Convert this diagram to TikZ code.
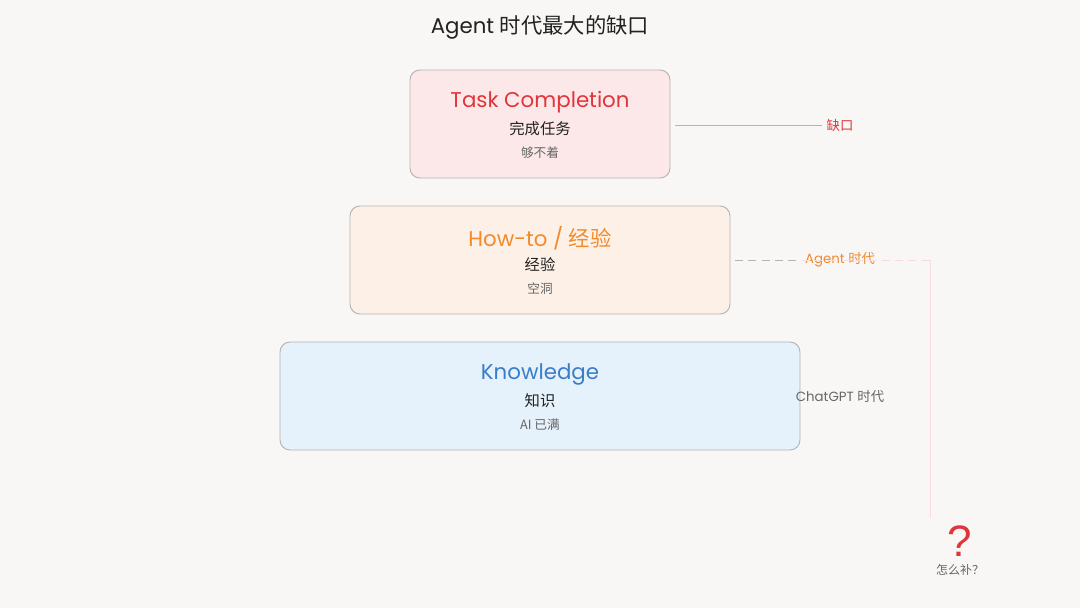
\documentclass[tikz,border=0pt]{standalone}
\usepackage{fontspec}
\setmainfont{Poppins}
\newfontfamily\cjk{Noto Sans CJK SC}
\newfontfamily\qfont{Liberation Sans}
\definecolor{bg}{HTML}{F8F7F5}
\definecolor{redc}{HTML}{E0353B}
\definecolor{orangec}{HTML}{F28A2E}
\definecolor{bluec}{HTML}{3A7DC9}
\definecolor{darkc}{HTML}{222222}
\definecolor{grayc}{HTML}{666666}
\definecolor{borderc}{HTML}{B4B4B4}
\definecolor{fillred}{HTML}{FCE8E8}
\definecolor{fillorange}{HTML}{FDF0E6}
\definecolor{fillblue}{HTML}{E5F1FB}
\definecolor{pinkline}{HTML}{F8DDDF}
\tikzset{
  layer/.style={draw=borderc, line width=0.7pt, rounded corners=7.5pt, inner sep=0pt},
  main/.style={font=\fontsize{16}{18}\selectfont, anchor=center},
  sub/.style={font=\cjk\fontsize{11.5}{13}\selectfont, text=darkc, anchor=center},
  note/.style={font=\cjk\fontsize{9.5}{11}\selectfont, text=grayc, anchor=center},
  side/.style={font=\fontsize{10}{12}\selectfont, anchor=center},
}
\begin{document}
\begin{tikzpicture}[x=0.75pt,y=-0.75pt]
\fill[bg] (0,0) rectangle (1080,608);
\useasboundingbox (0,0) rectangle (1080,608);
\node[font=\fontsize{16}{18}\selectfont, text=darkc] (title) at (540,27) {Agent {\cjk 时代最大的缺口}};
% boxes
\node[layer, fill=fillred, minimum width=195pt, minimum height=81pt] (task) at (540,124) {};
\node[layer, fill=fillorange, minimum width=285pt, minimum height=81pt] (how) at (540,260) {};
\node[layer, fill=fillblue, minimum width=390pt, minimum height=81pt] (know) at (540,396) {};
% texts
\node[main, text=redc] (t1) at (540,102) {Task Completion};
\node[sub] (t2) at (540,129) {完成任务};
\node[note] (t3) at (540,153) {够不着};
\node[main, text=orangec] (h1) at (540,238) {How-to / {\cjk 经验}};
\node[sub] (h2) at (540,265) {经验};
\node[note] (h3) at (540,289) {空洞};
\node[main, text=bluec] (k1) at (540,374) {Knowledge};
\node[sub] (k2) at (540,401) {知识};
\node[note] (k3) at (540,425) {AI {\cjk 已满}};
% side labels
\node[side, text=redc, font=\cjk\fontsize{10}{12}\selectfont] (gap) at (840,125) {缺口};
\node[side, text=orangec] (agent) at (840,260) {Agent {\cjk 时代}};
\node[side, text=grayc] (chat) at (840,396) {ChatGPT {\cjk 时代}};
\coordinate (start1) at (675,125);
\coordinate (start2) at (735,260);
\coordinate (turn) at (930,260);
\coordinate (down) at (930,518);
\node[font=\qfont\fontsize{33}{35}\selectfont, text=redc, anchor=base, inner sep=0pt] (q) at (960,556) {?};
\node[note, font=\cjk\fontsize{9}{11}\selectfont, inner sep=0pt] (how2) at (960,570) {怎么补？};
% connectors
\draw[borderc, line width=0.7pt] (start1) -- (gap.west);
\draw[pinkline, line width=0.7pt, dash pattern=on 6pt off 4pt] (start2) -- (turn);
\draw[borderc, line width=0.7pt, dash pattern=on 6pt off 4pt] (start2) -- (agent.west);
\draw[pinkline, line width=0.7pt] (turn) -- (down);
\end{tikzpicture}
\end{document}
